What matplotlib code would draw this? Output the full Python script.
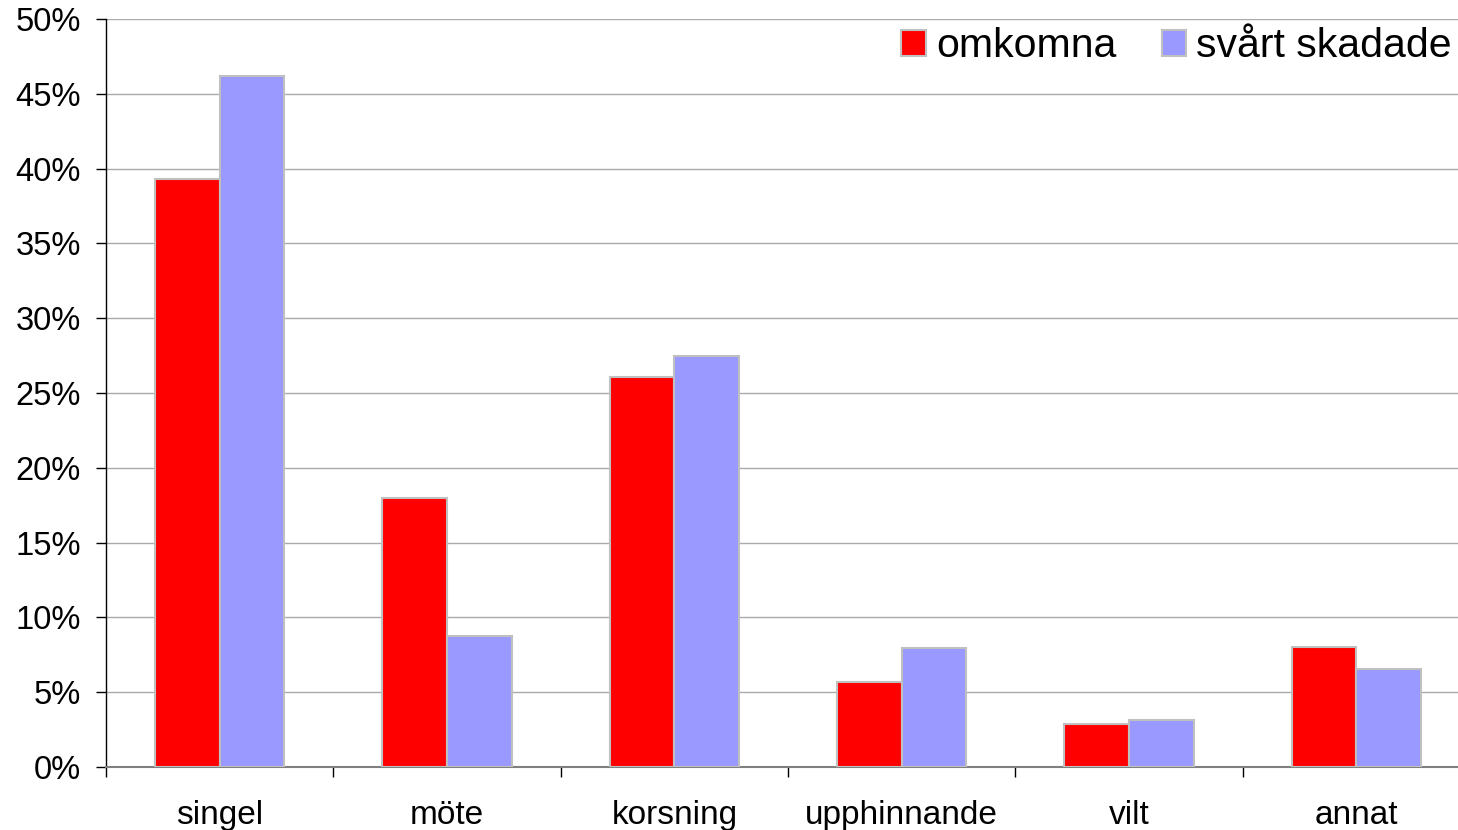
import numpy as np
import matplotlib
matplotlib.use('Agg')
import matplotlib.pyplot as plt
from matplotlib.ticker import FuncFormatter, MultipleLocator

# Chart data (percent)
categories = ['singel', 'möte', 'korsning', 'upphinnande', 'vilt', 'annat']
omkomna = [39.3, 18.0, 26.1, 5.7, 2.85, 8.0]
svart_skadade = [46.2, 8.75, 27.5, 7.95, 3.15, 6.55]
series_names = ['omkomna', 'svårt skadade']

plt.rcParams['font.family'] = ['Liberation Sans', 'DejaVu Sans']

fig = plt.figure(figsize=(14.58, 8.30), dpi=100)
# axes extend slightly past right edge like the original
ax = fig.add_axes([106 / 1458, 63 / 830, 1364 / 1458, 748 / 830])

x = np.arange(len(categories))
w = 0.285
ax.bar(x - w / 2, omkomna, width=w, color='#ff0000', edgecolor='#c0c0c0',
       linewidth=1.5, label=series_names[0], zorder=3)
ax.bar(x + w / 2, svart_skadade, width=w, color='#9999ff', edgecolor='#c0c0c0',
       linewidth=1.5, label=series_names[1], zorder=3)

ax.set_xlim(-0.5, len(categories) - 0.5)
ax.set_ylim(0, 50)

# y axis
ax.yaxis.set_major_locator(MultipleLocator(5))
ax.yaxis.set_major_formatter(FuncFormatter(lambda v, p: f'{v:.0f}%'))
ax.tick_params(axis='y', length=7, width=1, pad=11, labelsize=23.5, color='black')
ax.grid(axis='y', color='#aaaaaa', linewidth=1, zorder=0)

# x axis: ticks at category boundaries, labels at centres
ax.set_xticks(np.arange(len(categories)) - 0.5)
ax.set_xticklabels([])
ax.tick_params(axis='x', which='major', length=7, width=1, color='black')
ax.set_xticks(x, minor=True)
ax.set_xticklabels(categories, minor=True)
ax.tick_params(axis='x', which='minor', length=0, pad=24, labelsize=24)

for s in ['top', 'right']:
    ax.spines[s].set_visible(False)
ax.spines['left'].set_color('black')
ax.spines['left'].set_linewidth(1)
ax.spines['bottom'].set_color('#808080')
ax.spines['bottom'].set_linewidth(1.5)

ax.legend(loc='upper right', bbox_to_anchor=(1452 / 1458, 1 - 27 / 830),
          bbox_transform=fig.transFigure, ncol=2, frameon=False, fontsize=29.5,
          handlelength=0.6, handleheight=0.6, handletextpad=0.25,
          columnspacing=1.1, borderpad=0, borderaxespad=0)

fig.savefig('out.png', dpi=100)
